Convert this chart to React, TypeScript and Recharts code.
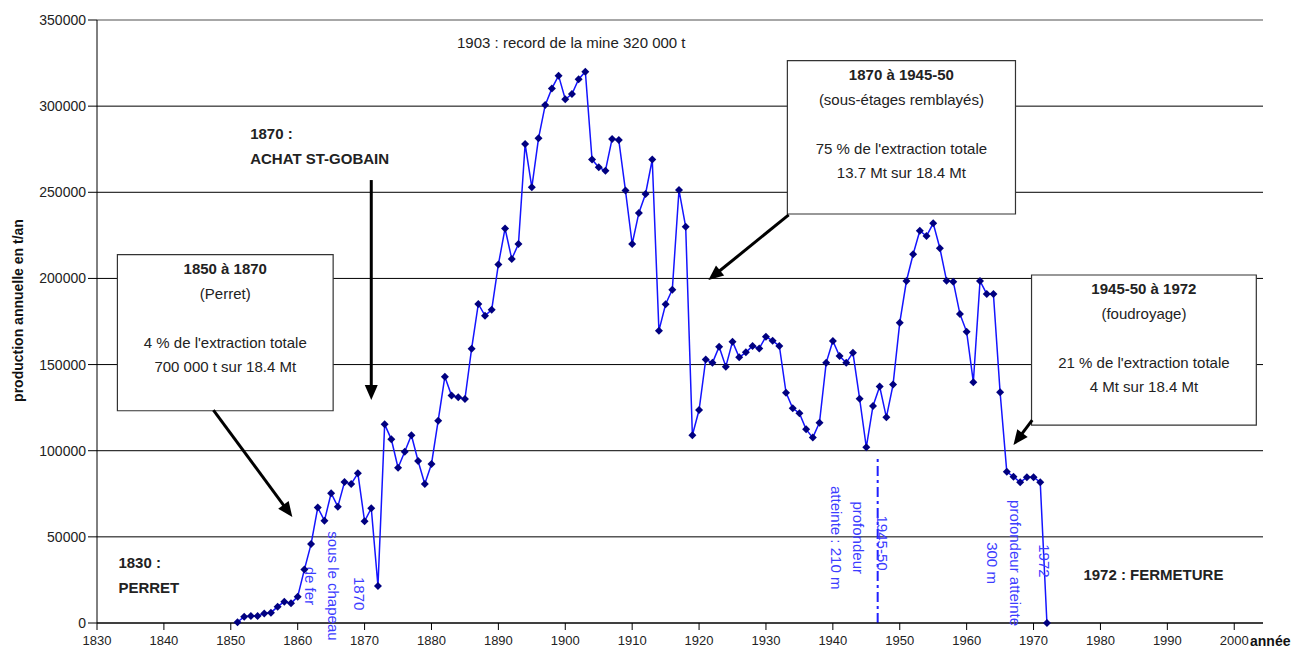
import React from "react";
import {
  LineChart,
  Line,
  XAxis,
  YAxis,
  CartesianGrid,
  ReferenceArea,
  ReferenceLine,
  ReferenceDot,
} from "recharts";

// production annuelle (t/an), une valeur par année
const years = [
  1851, 1852, 1853, 1854, 1855, 1856, 1857, 1858, 1859, 1860,
  1861, 1862, 1863, 1864, 1865, 1866, 1867, 1868, 1869, 1870,
  1871, 1872, 1873, 1874, 1875, 1876, 1877, 1878, 1879, 1880,
  1881, 1882, 1883, 1884, 1885, 1886, 1887, 1888, 1889, 1890,
  1891, 1892, 1893, 1894, 1895, 1896, 1897, 1898, 1899, 1900,
  1901, 1902, 1903, 1904, 1905, 1906, 1907, 1908, 1909, 1910,
  1911, 1912, 1913, 1914, 1915, 1916, 1917, 1918, 1919, 1920,
  1921, 1922, 1923, 1924, 1925, 1926, 1927, 1928, 1929, 1930,
  1931, 1932, 1933, 1934, 1935, 1936, 1937, 1938, 1939, 1940,
  1941, 1942, 1943, 1944, 1945, 1946, 1947, 1948, 1949, 1950,
  1951, 1952, 1953, 1954, 1955, 1956, 1957, 1958, 1959, 1960,
  1961, 1962, 1963, 1964, 1965, 1966, 1967, 1968, 1969, 1970,
  1971, 1972,
];

const production = [
  500, 3700, 4000, 4000, 5500, 6000, 9500, 12400, 11400, 15300,
  31000, 45800, 67000, 59400, 75300, 67500, 81800, 80700, 86900, 59000,
  66600, 21500, 115300, 106600, 90100, 99400, 109000, 94000, 80700, 92300,
  117400, 143000, 132000, 131000, 130000, 159200, 185200, 178400, 181800, 208100,
  229000, 211300, 220000, 278000, 252900, 281300, 300600, 310300, 317700, 304000,
  307000, 315600, 320000, 269000, 264500, 262500, 281000, 280300, 251000, 220000,
  238000, 249000, 269000, 169700, 185000, 193500, 251300, 230000, 109000, 123600,
  153000, 151000, 160400, 148800, 163300, 154200, 157100, 160800, 159400, 166200,
  163800, 160800, 133700, 124600, 121800, 112400, 107600, 116300, 151000, 163700,
  155000, 151000, 156900, 130200, 102000, 126000, 137200, 119400, 138400, 174300,
  198500, 214000, 227700, 224600, 232000, 217500, 198700, 198100, 179300, 169000,
  139800, 198500, 191000, 191000, 133900, 87800, 84900, 81700, 84600, 84600,
  81700, 0,
];

const xTicks = [1830, 1840, 1850, 1860, 1870, 1880, 1890, 1900, 1910, 1920, 1930, 1940, 1950, 1960, 1970, 1980, 1990, 2000];
const yTicks = [0, 50000, 100000, 150000, 200000, 250000, 300000, 350000];

const data = years.map((year, i) => ({ year, t: production[i] }));

const FONT = "'Liberation Sans', Arial, sans-serif";
const BLUE_TEXT = "#3c3cff";

// encadrés (coordonnées en années / tonnes)
const boxes = [
  {
    x1: 1833.05, x2: 1865.3, y1: 123200, y2: 213800,
    lines: ["1850 à 1870", "(Perret)", "", "4 % de l'extraction totale", "700 000 t sur 18.4 Mt"],
  },
  {
    x1: 1933.2, x2: 1967.3, y1: 237400, y2: 326400,
    lines: ["1870 à 1945-50", "(sous-étages remblayés)", "", "75 % de l'extraction totale", "13.7 Mt sur 18.4 Mt"],
  },
  {
    x1: 1969.7, x2: 2003.3, y1: 114900, y2: 202000,
    lines: ["1945-50 à 1972", "(foudroyage)", "", "21 % de l'extraction totale", "4 Mt sur 18.4 Mt"],
  },
];

const arrows = [
  { from: { x: 1847.4, y: 123600 }, to: { x: 1859.2, y: 61500 } },
  { from: { x: 1871.0, y: 257100 }, to: { x: 1871.0, y: 129400 } },
  { from: { x: 1933.4, y: 236900 }, to: { x: 1921.4, y: 199100 } },
  { from: { x: 1969.8, y: 117800 }, to: { x: 1967.0, y: 103300 } },
];

type Note = {
  x: number;
  y: number;
  lines: string[];
  bold?: boolean;
  color?: string;
  rotate?: boolean;
  anchor?: "start" | "middle" | "end";
  lh?: number;
};

const notes: Note[] = [
  { x: 1900.9, y: 337200, lines: ["1903 : record de la mine 320 000 t"], anchor: "middle" },
  { x: 1852.9, y: 277100, lines: ["1870 :", "ACHAT ST-GOBAIN"], bold: true, anchor: "start", lh: 25 },
  { x: 1833.2, y: 28100, lines: ["1830 :", "PERRET"], bold: true, anchor: "start", lh: 25 },
  { x: 1977.45, y: 28400, lines: ["1972 : FERMETURE"], bold: true, anchor: "start" },
  { x: 1863.6, y: 21500, lines: ["sous le chapeau", "de fer"], rotate: true, color: BLUE_TEXT, lh: 23 },
  { x: 1869.2, y: 17000, lines: ["1870"], rotate: true, color: BLUE_TEXT },
  { x: 1942.2, y: 49500, lines: ["profondeur", "atteinte : 210 m"], rotate: true, color: BLUE_TEXT, lh: 22 },
  { x: 1947.4, y: 46400, lines: ["1945-50"], rotate: true, color: BLUE_TEXT },
  { x: 1965.6, y: 34800, lines: ["profondeur atteinte", "300 m"], rotate: true, color: BLUE_TEXT, lh: 23 },
  { x: 1971.6, y: 36000, lines: ["1972"], rotate: true, color: BLUE_TEXT },
];

function Diamond(p: any) {
  if (p.cx == null || p.cy == null) return null;
  const { cx, cy } = p;
  return (
    <path
      key={`d-${p.index}`}
      d={`M${cx},${cy - 4}L${cx + 4},${cy}L${cx},${cy + 4}L${cx - 4},${cy}Z`}
      fill="#000080"
    />
  );
}

function Arrow(props: any) {
  const { x1, y1, x2, y2 } = props;
  const dx = x2 - x1;
  const dy = y2 - y1;
  const len = Math.hypot(dx, dy) || 1;
  const ux = dx / len;
  const uy = dy / len;
  const hl = 15;
  const hw = 6.5;
  const bx = x2 - ux * hl;
  const by = y2 - uy * hl;
  const pts = `${x2},${y2} ${bx - uy * hw},${by + ux * hw} ${bx + uy * hw},${by - ux * hw}`;
  return (
    <g>
      <line x1={x1} y1={y1} x2={bx + ux * 2} y2={by + uy * 2} stroke="#000" strokeWidth={3} />
      <polygon points={pts} fill="#000" />
    </g>
  );
}

function boxLabel(lines: string[]) {
  return (props: any) => {
    const vb = props.viewBox;
    if (!vb) return null;
    const cx = vb.x + vb.width / 2;
    return (
      <g>
        {lines.map((l, i) =>
          l ? (
            <text
              key={i}
              x={cx}
              y={vb.y + 14 + i * 24.5}
              textAnchor="middle"
              dominantBaseline="central"
              fontFamily={FONT}
              fontSize={15}
              fontWeight={i === 0 ? "bold" : "normal"}
              fill="#222"
            >
              {l}
            </text>
          ) : null
        )}
      </g>
    );
  };
}

function noteShape(n: Note) {
  return (props: any) => {
    const { cx, cy } = props;
    if (cx == null || cy == null) return <g />;
    const lh = n.lh ?? 18;
    const off = -((n.lines.length - 1) / 2) * lh;
    return (
      <text
        x={cx}
        y={cy}
        transform={n.rotate ? `rotate(90 ${cx} ${cy})` : undefined}
        textAnchor={n.anchor ?? "middle"}
        fontFamily={FONT}
        fontSize={15}
        fontWeight={n.bold ? "bold" : "normal"}
        fill={n.color ?? "#222"}
      >
        {n.lines.map((l, i) => (
          <tspan key={i} x={cx} y={cy + off + i * lh} dominantBaseline="central">
            {l}
          </tspan>
        ))}
      </text>
    );
  };
}

export default function App() {
  return (
    <div style={{ width: 1291, height: 649, fontFamily: FONT, background: "#fff" }}>
      <LineChart
        width={1291}
        height={649}
        data={data}
        margin={{ top: 12, right: 36, bottom: 4, left: 17 }}
      >
        <CartesianGrid vertical={false} stroke="#000" strokeOpacity={1} />
        <ReferenceLine y={350000} stroke="#b5b5b5" strokeWidth={1.5} ifOverflow="visible" />
        <XAxis
          dataKey="year"
          type="number"
          domain={[1830, 2004.3]}
          ticks={xTicks}
          interval={0}
          height={30}
          stroke="#000"
          tickSize={7}
          tickMargin={6}
          tick={{ fill: "#222", fontSize: 13, fontFamily: FONT }}
          label={(p: any) => {
            const vb = p.viewBox;
            return (
              <text
                x={vb.x + vb.width - 13}
                y={vb.y + 23}
                fontFamily={FONT}
                fontSize={14}
                fontWeight="bold"
                fill="#111"
              >
                année
              </text>
            );
          }}
        />
        <YAxis
          type="number"
          domain={[0, 350000]}
          ticks={yTicks}
          interval={0}
          width={72}
          stroke="#000"
          tickSize={9}
          tickMargin={2}
          tick={{ fill: "#222", fontSize: 14, fontFamily: FONT }}
          label={(p: any) => {
            const vb = p.viewBox;
            const x = vb.x - 7;
            const y = vb.y + vb.height / 2 - 11;
            return (
              <text
                x={x}
                y={y}
                transform={`rotate(-90 ${x} ${y})`}
                textAnchor="middle"
                dominantBaseline="central"
                fontFamily={FONT}
                fontSize={14}
                fontWeight="bold"
                fill="#111"
              >
                production annuelle en t/an
              </text>
            );
          }}
        />
        {boxes.map((b, i) => (
          <ReferenceArea
            key={`box-${i}`}
            x1={b.x1}
            x2={b.x2}
            y1={b.y1}
            y2={b.y2}
            fill="#fff"
            fillOpacity={1}
            stroke="#333"
            strokeWidth={1.2}
            ifOverflow="visible"
            label={boxLabel(b.lines)}
          />
        ))}
        {arrows.map((a, i) => (
          <ReferenceLine
            key={`arrow-${i}`}
            segment={[a.from, a.to]}
            ifOverflow="visible"
            shape={Arrow}
          />
        ))}
        <ReferenceLine
          segment={[
            { x: 1946.7, y: 0 },
            { x: 1946.7, y: 97000 },
          ]}
          stroke="#2020ff"
          strokeWidth={2}
          strokeDasharray="10 4 3 4"
          ifOverflow="visible"
        />
        {notes.map((n, i) => (
          <ReferenceDot
            key={`note-${i}`}
            x={n.x}
            y={n.y}
            r={0}
            ifOverflow="visible"
            shape={noteShape(n)}
          />
        ))}
        <Line
          type="linear"
          dataKey="t"
          stroke="#1414ff"
          strokeWidth={1.5}
          dot={Diamond}
          activeDot={false}
          isAnimationActive={false}
        />
      </LineChart>
    </div>
  );
}
